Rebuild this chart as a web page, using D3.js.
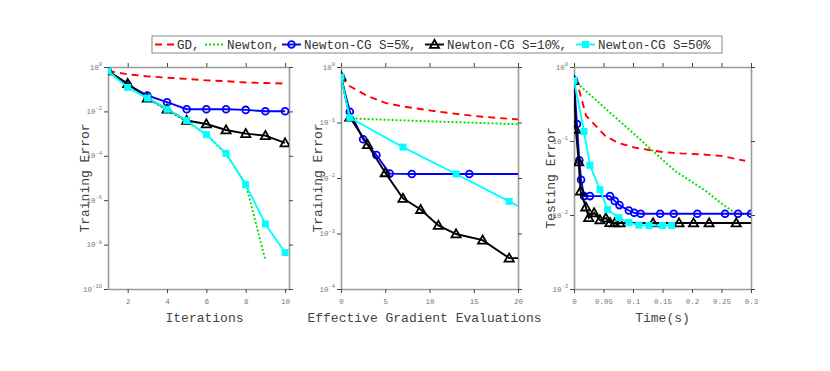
<!DOCTYPE html>
<html lang="en">
<head>
<meta charset="UTF-8">
<title>Newton-CG comparison</title>
<style>
    body { margin: 0; background: #fff; }
    text { font-family: "Liberation Mono", "DejaVu Sans Mono", monospace; }
</style>
</head>
<body>
<script src="https://d3js.org/d3.v7.min.js"></script>
<div id="chart"></div>
<script>

// ---- data: panel 1 (iterations) ----
var iterX = [1, 2, 3, 4, 5, 6, 7, 8, 9, 10]
var iterGD = [0.66, 0.47, 0.38, 0.33, 0.29, 0.25, 0.23, 0.2, 0.19, 0.18]
var iterNewtonX = [1, 2, 3, 4, 5, 6, 7, 8, 9]
var iterNewton = [0.66, 0.12, 0.04, 0.011, 0.0035, 9e-4, 1.2e-4, 5.5e-6, 2e-9]
var iterS5 = [0.66, 0.16, 0.052, 0.026, 0.0125, 0.0125, 0.0125, 0.0117, 0.0102, 0.0102]
var iterS10 = [0.66, 0.18, 0.04, 0.0125, 0.0039, 0.0027, 0.00145, 0.001, 0.00081, 0.00038]
var iterS50 = [0.66, 0.12, 0.04, 0.0125, 0.0039, 9e-4, 1.3e-4, 5e-6, 8.5e-8, 4.4e-9]

// ---- data: panel 2 (effective gradient evaluations) ----
var evalGDX = [0, 1, 3, 5, 7, 10, 12, 14, 16, 18, 20]
var evalGD = [0.66, 0.45, 0.30, 0.225, 0.195, 0.165, 0.15, 0.137, 0.127, 0.12, 0.114]
var evalNewtonX = [0, 1, 5, 10, 15, 20]
var evalNewton = [0.66, 0.119, 0.112, 0.105, 0.099, 0.093]
var evalS5X = [0, 1, 2.5, 4, 5.5, 8, 14.5, 21]
var evalS5 = [0.66, 0.156, 0.05, 0.026, 0.012, 0.0118, 0.0118, 0.0118]
var evalS10X = [0, 1, 3, 5, 7, 9, 11, 13, 16, 19, 21]
var evalS10 = [0.68, 0.125, 0.04, 0.0124, 0.0043, 0.0027, 0.0014, 0.00098, 0.00076, 0.00036, 0.00036]
var evalS50X = [0, 1, 7, 13, 19, 25]
var evalS50 = [0.66, 0.122, 0.036, 0.0118, 0.0038, 0.0012]

// ---- data: panel 3 (time) ----
var timeGDX = [0, 0.0068, 0.0205, 0.053, 0.075, 0.104, 0.15, 0.181, 0.215, 0.249, 0.29]
var timeGD = [0.69, 0.55, 0.22, 0.117, 0.094, 0.081, 0.071, 0.068, 0.066, 0.063, 0.054]
var timeNewtonX = [0, 0.05, 0.1, 0.15, 0.172, 0.2, 0.224, 0.252, 0.275, 0.3]
var timeNewton = [0.66, 0.29, 0.128, 0.056, 0.039, 0.028, 0.021, 0.0139, 0.0104, 0.0102]
var timeS5X = [0, 0.005, 0.009, 0.012, 0.017, 0.027, 0.061, 0.069, 0.077, 0.093, 0.102, 0.113, 0.146, 0.169, 0.209, 0.256, 0.278, 0.3]
var timeS5 = [0.66, 0.17, 0.055, 0.030, 0.018, 0.018, 0.018, 0.0155, 0.0136, 0.0115, 0.0107, 0.0104, 0.0104, 0.0104, 0.0104, 0.0104, 0.0104, 0.0104]
var timeS10X = [0, 0.003, 0.008, 0.011, 0.020, 0.025, 0.034, 0.044, 0.054, 0.061, 0.069, 0.078, 0.134, 0.178, 0.2026, 0.229, 0.275, 0.31]
var timeS10 = [0.66, 0.144, 0.052, 0.021, 0.0128, 0.0092, 0.0107, 0.0086, 0.0091, 0.0079, 0.0078, 0.0078, 0.0078, 0.0078, 0.0078, 0.0078, 0.0078, 0.0078]
var timeS50X = [0, 0.017, 0.027, 0.044, 0.057, 0.076, 0.093, 0.11, 0.127, 0.15, 0.1655]
var timeS50 = [0.66, 0.134, 0.047, 0.022, 0.0118, 0.0092, 0.0079, 0.0073, 0.0072, 0.0072, 0.0072]

// legend / series names
var seriesNames = ["GD,", "Newton,", "Newton-CG S=5%,", "Newton-CG S=10%,", "Newton-CG S=50%"]

var width = 830
var height = 371

var svg = d3.select("#chart")
    .append("svg")
    .attr("width", width)
    .attr("height", height)

svg.append("rect").attr("width", width).attr("height", height).attr("fill", "#fff")

// styles for each series (order: GD, Newton, S5, S10, S50)
var styles = [
    { color: "#ff0000", dash: "7,5", marker: null },
    { color: "#00e000", dash: "2,2", marker: null },
    { color: "#0000ff", dash: null, marker: "circle" },
    { color: "#000000", dash: null, marker: "triangle" },
    { color: "#00ffff", dash: null, marker: "square" }
]

function zip(xs, ys) {
    return xs.map(function (x, i) { return { x: x, y: ys[i] } })
}

function drawMarker(g, kind, color, cx, cy) {
    if (kind == "circle") {
        g.append("circle").attr("cx", cx).attr("cy", cy).attr("r", 3.4)
            .attr("fill", "none").attr("stroke", color).attr("stroke-width", 1.8)
    } else if (kind == "triangle") {
        var s = 4.6
        g.append("path")
            .attr("d", "M" + cx + "," + (cy - s) + "L" + (cx + s) + "," + (cy + s * 0.75) + "L" + (cx - s) + "," + (cy + s * 0.75) + "Z")
            .attr("fill", "none").attr("stroke", color).attr("stroke-width", 1.8)
    } else if (kind == "square") {
        g.append("rect").attr("x", cx - 3).attr("y", cy - 3).attr("width", 6).attr("height", 6)
            .attr("fill", color).attr("stroke", color).attr("stroke-width", 1)
    }
}

var panelTop = 67
var panelBottom = 289

function drawPanel(id, left, right, xDomain, xTicks, xTickFmt, yDomain, yExps, xLabel, xLabelShift, yLabel, series) {
    var x = d3.scaleLinear().domain(xDomain).range([left, right])
    var y = d3.scaleLog().domain(yDomain).range([panelBottom, panelTop])

    var g = svg.append("g")

    svg.append("clipPath").attr("id", "clip" + id)
        .append("rect").attr("x", left).attr("y", panelTop)
        .attr("width", right - left).attr("height", panelBottom - panelTop)

    var yVals = yExps.map(function (e) { return Math.pow(10, e) })

    // axes (ticks pointing outward on all four sides)
    var axes = [
        g.append("g").attr("transform", "translate(0," + panelBottom + ")")
            .call(d3.axisBottom(x).tickValues(xTicks).tickSize(4).tickSizeOuter(0).tickFormat(xTickFmt)),
        g.append("g").attr("transform", "translate(0," + panelTop + ")")
            .call(d3.axisTop(x).tickValues(xTicks).tickSize(4).tickSizeOuter(0).tickFormat("")),
        g.append("g").attr("transform", "translate(" + left + ",0)")
            .call(d3.axisLeft(y).tickValues(yVals).tickSize(4).tickSizeOuter(0).tickFormat("")),
        g.append("g").attr("transform", "translate(" + right + ",0)")
            .call(d3.axisRight(y).tickValues(yVals).tickSize(4).tickSizeOuter(0).tickFormat(""))
    ]
    axes.forEach(function (a) {
        a.select(".domain").attr("stroke", "#9a9a9a").attr("stroke-width", 1.6)
        a.selectAll(".tick line").attr("stroke", "#444")
        a.selectAll(".tick text")
            .attr("fill", "#777")
            .style("font-family", "'Liberation Mono', monospace")
            .style("font-size", "7.5px")
    })
    axes[0].selectAll(".tick text").attr("y", 10)

    // y tick labels with exponents
    yExps.forEach(function (e) {
        var t = g.append("text")
            .attr("x", left - 6)
            .attr("y", y(Math.pow(10, e)) + 2.5)
            .attr("text-anchor", "end")
            .attr("fill", "#777")
            .style("font-size", "7.5px")
        t.append("tspan").text("10")
        t.append("tspan").attr("dy", -3.5).style("font-size", "5.5px").text(e)
    })

    // axis labels
    g.append("text")
        .attr("x", (left + right) / 2 + xLabelShift)
        .attr("y", 322)
        .attr("text-anchor", "middle")
        .attr("fill", "#444")
        .style("font-size", "13px")
        .text(xLabel)

    g.append("text")
        .attr("transform", "translate(" + (left - 19) + "," + ((panelTop + panelBottom) / 2) + ") rotate(-90)")
        .attr("text-anchor", "middle")
        .attr("fill", "#444")
        .style("font-size", "13px")
        .text(yLabel)

    // series
    var plot = svg.append("g").attr("clip-path", "url(#clip" + id + ")")
    var line = d3.line().x(function (d) { return x(d.x) }).y(function (d) { return y(d.y) })

    series.forEach(function (s, i) {
        var st = styles[s.style]
        plot.append("path")
            .datum(s.data)
            .attr("d", line)
            .attr("fill", "none")
            .attr("stroke", st.color)
            .attr("stroke-width", 1.9)
            .attr("stroke-dasharray", st.dash)
        if (st.marker) {
            s.data.forEach(function (d) {
                drawMarker(plot, st.marker, st.color, x(d.x), y(d.y))
            })
        }
    })
}

drawPanel(1, 108, 289, [1, 10.2], [2, 4, 6, 8, 10], d3.format("d"),
    [1e-10, 1], [0, -2, -4, -6, -8, -10], "Iterations", 6, "Training Error",
    [
        { style: 0, data: zip(iterX, iterGD) },
        { style: 1, data: zip(iterNewtonX, iterNewton) },
        { style: 2, data: zip(iterX, iterS5) },
        { style: 3, data: zip(iterX, iterS10) },
        { style: 4, data: zip(iterX, iterS50) }
    ])

drawPanel(2, 341, 518, [0, 20], [0, 5, 10, 15, 20], d3.format("d"),
    [1e-4, 1], [0, -1, -2, -3, -4], "Effective Gradient Evaluations", -5, "Training Error",
    [
        { style: 0, data: zip(evalGDX, evalGD) },
        { style: 1, data: zip(evalNewtonX, evalNewton) },
        { style: 2, data: zip(evalS5X, evalS5) },
        { style: 3, data: zip(evalS10X, evalS10) },
        { style: 4, data: zip(evalS50X, evalS50) }
    ])

drawPanel(3, 574, 751, [0, 0.3], [0, 0.05, 0.1, 0.15, 0.2, 0.25, 0.3], function (d) { return d == 0 ? "0" : String(+d.toFixed(2)) },
    [1e-3, 1], [0, -1, -2, -3], "Time(s)", 0, "Testing Error",
    [
        { style: 0, data: zip(timeGDX, timeGD) },
        { style: 1, data: zip(timeNewtonX, timeNewton) },
        { style: 2, data: zip(timeS5X, timeS5) },
        { style: 3, data: zip(timeS10X, timeS10) },
        { style: 4, data: zip(timeS50X, timeS50) }
    ])

// LEGEND
var legend = svg.append("g")
legend.append("rect")
    .attr("x", 152).attr("y", 36).attr("width", 570).attr("height", 17)
    .attr("fill", "#fff").attr("stroke", "#888").attr("stroke-width", 1)

// text start of each legend entry
var legendTextX = [177, 227, 304, 447, 598]
seriesNames.forEach(function (name, i) {
    var st = styles[i]
    var ly = 44.5
    var tx = legendTextX[i]
    legend.append("line")
        .attr("x1", tx - 22).attr("x2", tx - 3)
        .attr("y1", ly).attr("y2", ly)
        .attr("stroke", st.color).attr("stroke-width", 1.9)
        .attr("stroke-dasharray", st.dash)
    if (st.marker) drawMarker(legend, st.marker, st.color, tx - 12.5, ly)
    legend.append("text")
        .attr("x", tx)
        .attr("y", ly + 4)
        .attr("fill", "#333")
        .style("font-size", "12.5px")
        .attr("textLength", name.length * 7.5)
        .text(name)
})

</script>
</body>
</html>
